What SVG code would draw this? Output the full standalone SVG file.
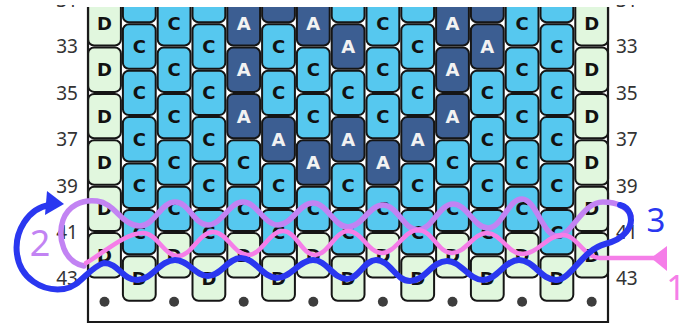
<svg xmlns="http://www.w3.org/2000/svg" width="694" height="324" viewBox="0 0 694 324">
<style>
.bd{stroke:#151515;stroke-width:2}
.C{fill:#56c8ef}
.A{fill:#3c5e92}
.D{fill:#e1f7de}
.t{font-family:"DejaVu Sans",sans-serif;font-weight:bold;font-size:18px;text-anchor:middle}
.tk{fill:#111}
.tw{fill:#f2f2f2}
.lab{font-family:"Noto Sans","DejaVu Sans",sans-serif;font-size:19px;fill:#333}
.le{text-anchor:end}
.dot{fill:#3d3d3d}
.ln{fill:none;stroke-linecap:round;stroke-linejoin:round}
.hw{font-family:"Noto Sans","DejaVu Sans",sans-serif;text-anchor:middle}
</style>
<defs>
<clipPath id="pc"><rect x="0" y="7" width="694" height="317"/></clipPath>
<clipPath id="lc"><rect x="0" y="5" width="694" height="319"/></clipPath>
</defs>
<rect width="694" height="324" fill="#fff"/>
<g id="pattern" clip-path="url(#pc)">
<g id="c0">
<rect class="bd D" x="88.1" y="1.1" width="32.8" height="44.4" rx="6"/><text class="t tk" x="104.5" y="29.8">D</text>
<rect class="bd D" x="88.1" y="47.5" width="32.8" height="44.4" rx="6"/><text class="t tk" x="104.5" y="76.2">D</text>
<rect class="bd D" x="88.1" y="93.9" width="32.8" height="44.4" rx="6"/><text class="t tk" x="104.5" y="122.6">D</text>
<rect class="bd D" x="88.1" y="140.3" width="32.8" height="44.4" rx="6"/><text class="t tk" x="104.5" y="169">D</text>
<rect class="bd D" x="88.1" y="186.7" width="32.8" height="44.4" rx="6"/><text class="t tk" x="104.5" y="215.4">D</text>
<rect class="bd D" x="88.1" y="233.1" width="32.8" height="44.4" rx="6"/><text class="t tk" x="104.5" y="261.8">D</text>
</g>
<g id="c1">
<rect class="bd C" x="122.9" y="-22.1" width="32.8" height="44.4" rx="6"/>
<rect class="bd C" x="122.9" y="24.3" width="32.8" height="44.4" rx="6"/><text class="t tk" x="139.3" y="53">C</text>
<rect class="bd C" x="122.9" y="70.7" width="32.8" height="44.4" rx="6"/><text class="t tk" x="139.3" y="99.4">C</text>
<rect class="bd C" x="122.9" y="117.1" width="32.8" height="44.4" rx="6"/><text class="t tk" x="139.3" y="145.8">C</text>
<rect class="bd C" x="122.9" y="163.5" width="32.8" height="44.4" rx="6"/><text class="t tk" x="139.3" y="192.2">C</text>
<rect class="bd C" x="122.9" y="209.9" width="32.8" height="44.4" rx="6"/><text class="t tk" x="139.3" y="238.6">C</text>
<rect class="bd D" x="122.9" y="256.3" width="32.8" height="44.4" rx="6"/><text class="t tk" x="139.3" y="285">D</text>
</g>
<g id="c2">
<rect class="bd C" x="157.7" y="1.1" width="32.8" height="44.4" rx="6"/><text class="t tk" x="174.1" y="29.8">C</text>
<rect class="bd C" x="157.7" y="47.5" width="32.8" height="44.4" rx="6"/><text class="t tk" x="174.1" y="76.2">C</text>
<rect class="bd C" x="157.7" y="93.9" width="32.8" height="44.4" rx="6"/><text class="t tk" x="174.1" y="122.6">C</text>
<rect class="bd C" x="157.7" y="140.3" width="32.8" height="44.4" rx="6"/><text class="t tk" x="174.1" y="169">C</text>
<rect class="bd C" x="157.7" y="186.7" width="32.8" height="44.4" rx="6"/><text class="t tk" x="174.1" y="215.4">C</text>
<rect class="bd D" x="157.7" y="233.1" width="32.8" height="44.4" rx="6"/><text class="t tk" x="174.1" y="261.8">D</text>
</g>
<g id="c3">
<rect class="bd C" x="192.5" y="-22.1" width="32.8" height="44.4" rx="6"/>
<rect class="bd C" x="192.5" y="24.3" width="32.8" height="44.4" rx="6"/><text class="t tk" x="208.9" y="53">C</text>
<rect class="bd C" x="192.5" y="70.7" width="32.8" height="44.4" rx="6"/><text class="t tk" x="208.9" y="99.4">C</text>
<rect class="bd C" x="192.5" y="117.1" width="32.8" height="44.4" rx="6"/><text class="t tk" x="208.9" y="145.8">C</text>
<rect class="bd C" x="192.5" y="163.5" width="32.8" height="44.4" rx="6"/><text class="t tk" x="208.9" y="192.2">C</text>
<rect class="bd C" x="192.5" y="209.9" width="32.8" height="44.4" rx="6"/><text class="t tk" x="208.9" y="238.6">C</text>
<rect class="bd D" x="192.5" y="256.3" width="32.8" height="44.4" rx="6"/><text class="t tk" x="208.9" y="285">D</text>
</g>
<g id="c4">
<rect class="bd A" x="227.3" y="1.1" width="32.8" height="44.4" rx="6"/><text class="t tw" x="243.7" y="29.8">A</text>
<rect class="bd A" x="227.3" y="47.5" width="32.8" height="44.4" rx="6"/><text class="t tw" x="243.7" y="76.2">A</text>
<rect class="bd A" x="227.3" y="93.9" width="32.8" height="44.4" rx="6"/><text class="t tw" x="243.7" y="122.6">A</text>
<rect class="bd C" x="227.3" y="140.3" width="32.8" height="44.4" rx="6"/><text class="t tk" x="243.7" y="169">C</text>
<rect class="bd C" x="227.3" y="186.7" width="32.8" height="44.4" rx="6"/><text class="t tk" x="243.7" y="215.4">C</text>
<rect class="bd D" x="227.3" y="233.1" width="32.8" height="44.4" rx="6"/><text class="t tk" x="243.7" y="261.8">D</text>
</g>
<g id="c5">
<rect class="bd A" x="262.1" y="-22.1" width="32.8" height="44.4" rx="6"/>
<rect class="bd C" x="262.1" y="24.3" width="32.8" height="44.4" rx="6"/><text class="t tk" x="278.5" y="53">C</text>
<rect class="bd C" x="262.1" y="70.7" width="32.8" height="44.4" rx="6"/><text class="t tk" x="278.5" y="99.4">C</text>
<rect class="bd A" x="262.1" y="117.1" width="32.8" height="44.4" rx="6"/><text class="t tw" x="278.5" y="145.8">A</text>
<rect class="bd C" x="262.1" y="163.5" width="32.8" height="44.4" rx="6"/><text class="t tk" x="278.5" y="192.2">C</text>
<rect class="bd C" x="262.1" y="209.9" width="32.8" height="44.4" rx="6"/><text class="t tk" x="278.5" y="238.6">C</text>
<rect class="bd D" x="262.1" y="256.3" width="32.8" height="44.4" rx="6"/><text class="t tk" x="278.5" y="285">D</text>
</g>
<g id="c6">
<rect class="bd A" x="296.9" y="1.1" width="32.8" height="44.4" rx="6"/><text class="t tw" x="313.3" y="29.8">A</text>
<rect class="bd C" x="296.9" y="47.5" width="32.8" height="44.4" rx="6"/><text class="t tk" x="313.3" y="76.2">C</text>
<rect class="bd C" x="296.9" y="93.9" width="32.8" height="44.4" rx="6"/><text class="t tk" x="313.3" y="122.6">C</text>
<rect class="bd A" x="296.9" y="140.3" width="32.8" height="44.4" rx="6"/><text class="t tw" x="313.3" y="169">A</text>
<rect class="bd C" x="296.9" y="186.7" width="32.8" height="44.4" rx="6"/><text class="t tk" x="313.3" y="215.4">C</text>
<rect class="bd D" x="296.9" y="233.1" width="32.8" height="44.4" rx="6"/><text class="t tk" x="313.3" y="261.8">D</text>
</g>
<g id="c7">
<rect class="bd C" x="331.7" y="-22.1" width="32.8" height="44.4" rx="6"/>
<rect class="bd A" x="331.7" y="24.3" width="32.8" height="44.4" rx="6"/><text class="t tw" x="348.1" y="53">A</text>
<rect class="bd C" x="331.7" y="70.7" width="32.8" height="44.4" rx="6"/><text class="t tk" x="348.1" y="99.4">C</text>
<rect class="bd A" x="331.7" y="117.1" width="32.8" height="44.4" rx="6"/><text class="t tw" x="348.1" y="145.8">A</text>
<rect class="bd C" x="331.7" y="163.5" width="32.8" height="44.4" rx="6"/><text class="t tk" x="348.1" y="192.2">C</text>
<rect class="bd C" x="331.7" y="209.9" width="32.8" height="44.4" rx="6"/><text class="t tk" x="348.1" y="238.6">C</text>
<rect class="bd D" x="331.7" y="256.3" width="32.8" height="44.4" rx="6"/><text class="t tk" x="348.1" y="285">D</text>
</g>
<g id="c8">
<rect class="bd C" x="366.5" y="1.1" width="32.8" height="44.4" rx="6"/><text class="t tk" x="382.9" y="29.8">C</text>
<rect class="bd C" x="366.5" y="47.5" width="32.8" height="44.4" rx="6"/><text class="t tk" x="382.9" y="76.2">C</text>
<rect class="bd C" x="366.5" y="93.9" width="32.8" height="44.4" rx="6"/><text class="t tk" x="382.9" y="122.6">C</text>
<rect class="bd A" x="366.5" y="140.3" width="32.8" height="44.4" rx="6"/><text class="t tw" x="382.9" y="169">A</text>
<rect class="bd C" x="366.5" y="186.7" width="32.8" height="44.4" rx="6"/><text class="t tk" x="382.9" y="215.4">C</text>
<rect class="bd D" x="366.5" y="233.1" width="32.8" height="44.4" rx="6"/><text class="t tk" x="382.9" y="261.8">D</text>
</g>
<g id="c9">
<rect class="bd C" x="401.3" y="-22.1" width="32.8" height="44.4" rx="6"/>
<rect class="bd C" x="401.3" y="24.3" width="32.8" height="44.4" rx="6"/><text class="t tk" x="417.7" y="53">C</text>
<rect class="bd C" x="401.3" y="70.7" width="32.8" height="44.4" rx="6"/><text class="t tk" x="417.7" y="99.4">C</text>
<rect class="bd A" x="401.3" y="117.1" width="32.8" height="44.4" rx="6"/><text class="t tw" x="417.7" y="145.8">A</text>
<rect class="bd C" x="401.3" y="163.5" width="32.8" height="44.4" rx="6"/><text class="t tk" x="417.7" y="192.2">C</text>
<rect class="bd C" x="401.3" y="209.9" width="32.8" height="44.4" rx="6"/><text class="t tk" x="417.7" y="238.6">C</text>
<rect class="bd D" x="401.3" y="256.3" width="32.8" height="44.4" rx="6"/><text class="t tk" x="417.7" y="285">D</text>
</g>
<g id="c10">
<rect class="bd A" x="436.1" y="1.1" width="32.8" height="44.4" rx="6"/><text class="t tw" x="452.5" y="29.8">A</text>
<rect class="bd A" x="436.1" y="47.5" width="32.8" height="44.4" rx="6"/><text class="t tw" x="452.5" y="76.2">A</text>
<rect class="bd A" x="436.1" y="93.9" width="32.8" height="44.4" rx="6"/><text class="t tw" x="452.5" y="122.6">A</text>
<rect class="bd C" x="436.1" y="140.3" width="32.8" height="44.4" rx="6"/><text class="t tk" x="452.5" y="169">C</text>
<rect class="bd C" x="436.1" y="186.7" width="32.8" height="44.4" rx="6"/><text class="t tk" x="452.5" y="215.4">C</text>
<rect class="bd D" x="436.1" y="233.1" width="32.8" height="44.4" rx="6"/><text class="t tk" x="452.5" y="261.8">D</text>
</g>
<g id="c11">
<rect class="bd A" x="470.9" y="-22.1" width="32.8" height="44.4" rx="6"/>
<rect class="bd A" x="470.9" y="24.3" width="32.8" height="44.4" rx="6"/><text class="t tw" x="487.3" y="53">A</text>
<rect class="bd C" x="470.9" y="70.7" width="32.8" height="44.4" rx="6"/><text class="t tk" x="487.3" y="99.4">C</text>
<rect class="bd C" x="470.9" y="117.1" width="32.8" height="44.4" rx="6"/><text class="t tk" x="487.3" y="145.8">C</text>
<rect class="bd C" x="470.9" y="163.5" width="32.8" height="44.4" rx="6"/><text class="t tk" x="487.3" y="192.2">C</text>
<rect class="bd C" x="470.9" y="209.9" width="32.8" height="44.4" rx="6"/><text class="t tk" x="487.3" y="238.6">C</text>
<rect class="bd D" x="470.9" y="256.3" width="32.8" height="44.4" rx="6"/><text class="t tk" x="487.3" y="285">D</text>
</g>
<g id="c12">
<rect class="bd C" x="505.7" y="1.1" width="32.8" height="44.4" rx="6"/><text class="t tk" x="522.1" y="29.8">C</text>
<rect class="bd C" x="505.7" y="47.5" width="32.8" height="44.4" rx="6"/><text class="t tk" x="522.1" y="76.2">C</text>
<rect class="bd C" x="505.7" y="93.9" width="32.8" height="44.4" rx="6"/><text class="t tk" x="522.1" y="122.6">C</text>
<rect class="bd C" x="505.7" y="140.3" width="32.8" height="44.4" rx="6"/><text class="t tk" x="522.1" y="169">C</text>
<rect class="bd C" x="505.7" y="186.7" width="32.8" height="44.4" rx="6"/><text class="t tk" x="522.1" y="215.4">C</text>
<rect class="bd D" x="505.7" y="233.1" width="32.8" height="44.4" rx="6"/><text class="t tk" x="522.1" y="261.8">D</text>
</g>
<g id="c13">
<rect class="bd C" x="540.5" y="-22.1" width="32.8" height="44.4" rx="6"/>
<rect class="bd C" x="540.5" y="24.3" width="32.8" height="44.4" rx="6"/><text class="t tk" x="556.9" y="53">C</text>
<rect class="bd C" x="540.5" y="70.7" width="32.8" height="44.4" rx="6"/><text class="t tk" x="556.9" y="99.4">C</text>
<rect class="bd C" x="540.5" y="117.1" width="32.8" height="44.4" rx="6"/><text class="t tk" x="556.9" y="145.8">C</text>
<rect class="bd C" x="540.5" y="163.5" width="32.8" height="44.4" rx="6"/><text class="t tk" x="556.9" y="192.2">C</text>
<rect class="bd C" x="540.5" y="209.9" width="32.8" height="44.4" rx="6"/><text class="t tk" x="556.9" y="238.6">C</text>
<rect class="bd D" x="540.5" y="256.3" width="32.8" height="44.4" rx="6"/><text class="t tk" x="556.9" y="285">D</text>
</g>
<g id="c14">
<rect class="bd D" x="575.3" y="1.1" width="32.8" height="44.4" rx="6"/><text class="t tk" x="591.7" y="29.8">D</text>
<rect class="bd D" x="575.3" y="47.5" width="32.8" height="44.4" rx="6"/><text class="t tk" x="591.7" y="76.2">D</text>
<rect class="bd D" x="575.3" y="93.9" width="32.8" height="44.4" rx="6"/><text class="t tk" x="591.7" y="122.6">D</text>
<rect class="bd D" x="575.3" y="140.3" width="32.8" height="44.4" rx="6"/><text class="t tk" x="591.7" y="169">D</text>
<rect class="bd D" x="575.3" y="186.7" width="32.8" height="44.4" rx="6"/><text class="t tk" x="591.7" y="215.4">D</text>
<rect class="bd D" x="575.3" y="233.1" width="32.8" height="44.4" rx="6"/><text class="t tk" x="591.7" y="261.8">D</text>
</g>
<g id="dots">
<circle class="dot" cx="104.5" cy="301.7" r="5"/>
<circle class="dot" cx="174.1" cy="301.7" r="5"/>
<circle class="dot" cx="243.7" cy="301.7" r="5"/>
<circle class="dot" cx="313.3" cy="301.7" r="5"/>
<circle class="dot" cx="382.9" cy="301.7" r="5"/>
<circle class="dot" cx="452.5" cy="301.7" r="5"/>
<circle class="dot" cx="522.1" cy="301.7" r="5"/>
<circle class="dot" cx="591.7" cy="301.7" r="5"/>
</g>
<path id="frame" d="M88 0 V322 H608 V0" fill="none" stroke="#1a1a1a" stroke-width="2.2"/>
</g>
<g id="labels" class="lab" clip-path="url(#lc)">
<text class="le" x="78" y="7">31</text>
<text class="le" x="78" y="53.3">33</text>
<text class="le" x="78" y="99.7">35</text>
<text class="le" x="78" y="146.1">37</text>
<text class="le" x="78" y="192.5">39</text>
<text class="le" x="78" y="238.9">41</text>
<text class="le" x="78" y="285.3">43</text>
<text x="616" y="7">31</text>
<text x="616" y="53.3">33</text>
<text x="616" y="99.7">35</text>
<text x="616" y="146.1">37</text>
<text x="616" y="192.5">39</text>
<text x="616" y="238.9">41</text>
<text x="616" y="285.3">43</text>
</g>
<g id="connectors">
<path id="purple" class="ln" stroke="#c283f3" stroke-width="5.5" d="M 84 266 C 64 262 57 238 63 220 C 68 206 82 199 97 201 C 115 203 122 226 140 226 C 154 226 161 202 175 202 C 189 202 194 225 208 225 C 222 225 229 202 243 202 C 257 202 264 225 278 225 C 292 225 299 203 313 203 C 327 203 334 227 348 227 C 362 227 369 205 383 205 C 397 205 404 230 418 230 C 432 230 439 204 453 204 C 467 204 474 228 488 228 C 502 228 508 199 522 199 C 536 199 543 236 557 236 C 572 236 582 202 603 202 C 618 202 628 208 631 216"/>
<path id="pink" class="ln" stroke="#f57ee8" stroke-width="4.5" d="M 86 263 C 105 252 125 233 143 233 C 157 233 164 256 178 256 C 192 256 199 232 213 232 C 227 232 234 255 248 255 C 262 255 269 231 283 231 C 296 231 302 255 315 255 C 328 255 335 231 348 231 C 362 231 368 253 382 253 C 396 253 404 230 418 230 C 432 230 438 253 452 253 C 466 253 473 233 487 233 C 501 233 508 254 522 254 C 538 254 547 235 563 235 C 577 235 583 257 600 258 L 655 258"/>
<polygon id="pink-head" fill="#f57ee8" points="667,246 667,271 651,258"/>
<path id="blue" class="ln" stroke="#2a37f0" stroke-width="6" d="M 50 205 C 28 208 14 232 17 254 C 20 278 42 292 64 289 C 80 287 88 268 104 263 C 118 263 123 280 137 280 C 152 280 160 260 175 260 C 189 260 195 276 208 276 C 221 276 228 258 241 258 C 255 258 263 278 277 278 C 291 278 299 260 313 260 C 327 260 333 279 347 279 C 359 279 364 260 376 260 C 390 260 396 281 410 281 C 425 281 432 261 447 261 C 461 261 469 280 483 280 C 497 280 505 260 519 260 C 534 260 541 280 556 280 C 571 280 582 250 605 244 C 625 239 634 226 630 214 C 628 208 624 206 620 205"/>
<polygon id="blue-head" fill="#2a37f0" points="47,191 64,204 45,215"/>
</g>
<g id="notes">
<text class="hw" x="40" y="256" font-size="36" fill="#c283f3">2</text>
<text class="hw" x="656" y="232" font-size="33" fill="#2a37f0">3</text>
<text class="hw" x="676" y="300" font-size="34" fill="#f57ee8">1</text>
</g>
</svg>
